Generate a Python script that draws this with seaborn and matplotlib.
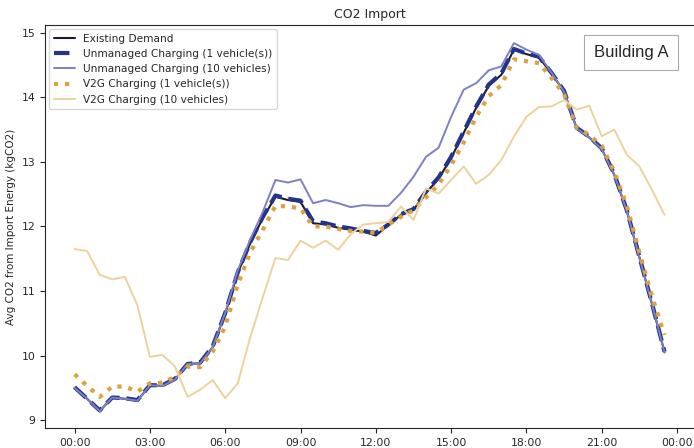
import numpy as np
import pandas as pd
import matplotlib
matplotlib.use("Agg")
import matplotlib.pyplot as plt
import matplotlib.dates as mdates
import seaborn as sns

sns.set_style("ticks")

times = pd.date_range("2000-01-01 00:00", periods=48, freq="30min")

existing = [9.50, 9.33, 9.14, 9.35, 9.33, 9.30, 9.54, 9.53, 9.63, 9.87, 9.88, 10.13,
            10.65, 11.28, 11.74, 12.13, 12.46, 12.41, 12.38, 12.05, 12.03, 11.98, 11.95, 11.92,
            11.86, 12.02, 12.18, 12.26, 12.52, 12.74, 13.06, 13.45, 13.84, 14.18, 14.35, 14.74,
            14.67, 14.62, 14.37, 14.09, 13.52, 13.38, 13.20, 12.80, 12.24, 11.52, 10.80, 10.05]

unmanaged_1 = [9.51, 9.33, 9.15, 9.35, 9.34, 9.31, 9.54, 9.54, 9.64, 9.87, 9.89, 10.14,
               10.66, 11.29, 11.76, 12.15, 12.48, 12.43, 12.40, 12.08, 12.05, 12.00, 11.97, 11.93,
               11.90, 12.03, 12.19, 12.27, 12.54, 12.76, 13.08, 13.47, 13.86, 14.20, 14.37, 14.75,
               14.68, 14.63, 14.38, 14.10, 13.53, 13.39, 13.21, 12.81, 12.25, 11.53, 10.81, 10.06]

unmanaged_10 = [9.50, 9.33, 9.14, 9.35, 9.33, 9.30, 9.54, 9.53, 9.63, 9.87, 9.88, 10.13,
                10.66, 11.32, 11.80, 12.23, 12.72, 12.68, 12.73, 12.36, 12.41, 12.36, 12.30, 12.33,
                12.32, 12.32, 12.52, 12.77, 13.08, 13.22, 13.70, 14.12, 14.22, 14.42, 14.48, 14.84,
                14.74, 14.66, 14.38, 14.09, 13.52, 13.38, 13.20, 12.80, 12.24, 11.52, 10.80, 10.05]

v2g_1 = [9.71, 9.53, 9.36, 9.52, 9.52, 9.44, 9.57, 9.58, 9.67, 9.83, 9.82, 10.06,
         10.45, 11.10, 11.60, 11.95, 12.32, 12.31, 12.28, 12.00, 12.00, 11.96, 11.93, 11.92,
         11.90, 12.03, 12.15, 12.25, 12.45, 12.65, 12.95, 13.30, 13.70, 14.02, 14.19, 14.59,
         14.56, 14.53, 14.30, 14.05, 13.53, 13.42, 13.25, 12.85, 12.32, 11.60, 10.92, 10.32]

v2g_10 = [11.65, 11.62, 11.25, 11.18, 11.22, 10.78, 9.98, 10.01, 9.83, 9.36, 9.47, 9.62,
          9.34, 9.57, 10.29, 10.91, 11.51, 11.48, 11.78, 11.67, 11.78, 11.64, 11.88, 12.03,
          12.05, 12.07, 12.31, 12.10, 12.59, 12.51, 12.72, 12.93, 12.66, 12.80, 13.03, 13.39,
          13.70, 13.85, 13.86, 13.96, 13.81, 13.87, 13.40, 13.50, 13.11, 12.93, 12.57, 12.18]

fig = plt.figure(figsize=(6.94, 4.48), dpi=100)
ax = fig.add_axes([0.065, 0.045, 0.935, 0.899])

sns.lineplot(x=times, y=existing, color="#1b1b2f", lw=1.5, label="Existing Demand", ax=ax)
sns.lineplot(x=times, y=unmanaged_1, color="#24348a", lw=3, ls="--",
             label="Unmanaged Charging (1 vehicle(s))", ax=ax)
sns.lineplot(x=times, y=unmanaged_10, color="#7d80c6", lw=1.4,
             label="Unmanaged Charging (10 vehicles)", ax=ax)
sns.lineplot(x=times, y=v2g_1, color="#dca23f", lw=3, ls=":",
             label="V2G Charging (1 vehicle(s))", ax=ax)
sns.lineplot(x=times, y=v2g_10, color="#ecd29c", lw=1.4,
             label="V2G Charging (10 vehicles)", ax=ax)

ax.set_ylim(8.88, 15.12)
ax.set_yticks([9, 10, 11, 12, 13, 14, 15])
ax.xaxis.set_major_locator(mdates.HourLocator(byhour=range(0, 24, 3)))
ax.xaxis.set_major_formatter(mdates.DateFormatter("%H:%M"))
ax.tick_params(labelsize=7.8, length=3.5)
ax.set_xlabel("")
ax.set_ylabel("Avg CO2 from Import Energy (kgCO2)", fontsize=7.5)
ax.set_title("CO2 Import", fontsize=9, pad=5)
ax.spines["right"].set_visible(False)

ax.legend(loc="upper left", fontsize=7.6, frameon=True, borderaxespad=0.4)

fig.text(0.909, 0.883, "Building A", fontsize=12, family="Liberation Sans",
         ha="center", va="center",
         bbox=dict(boxstyle="square,pad=0.6", fc="white", ec="#aaaaaa", lw=0.8))

fig.savefig("out.png", dpi=100)
